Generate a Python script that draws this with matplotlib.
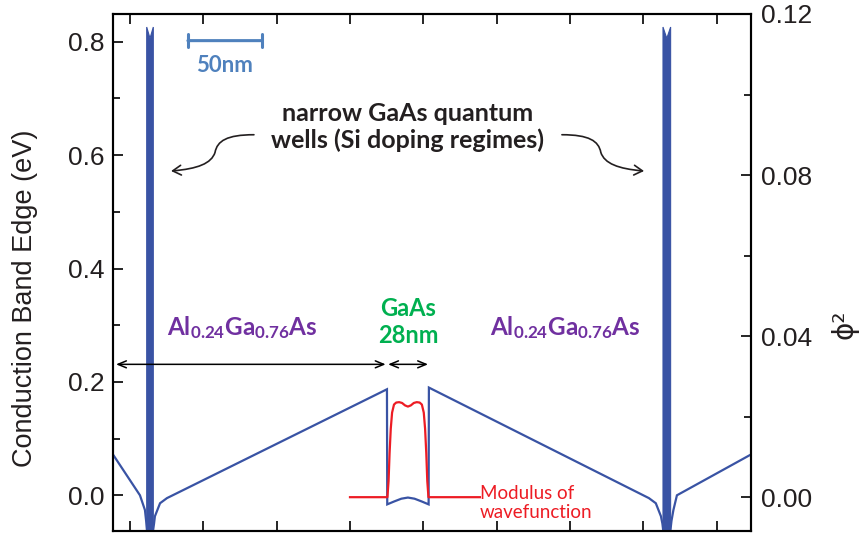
import numpy as np
import matplotlib
matplotlib.use("Agg")
import matplotlib.pyplot as plt
from matplotlib.path import Path
from matplotlib.patches import FancyArrowPatch
from matplotlib.ticker import MultipleLocator, FormatStrFormatter, NullFormatter

plt.rcParams['font.family'] = ['Liberation Sans', 'DejaVu Sans']
plt.rcParams['mathtext.fontset'] = 'custom'
plt.rcParams['mathtext.bf'] = 'Lato:bold'
plt.rcParams['mathtext.rm'] = 'Lato'

# conduction band profile: position (nm), energy (eV)
band_x = [-11.6, 6.8, 10.2, 11.0, 11.6,
          15.7, 16.4, 17.0, 20.5, 25.2,
          175.2, 175.4, 180.0, 185.0, 189.5, 194.0, 199.0, 203.6, 203.8,
          353.8, 358.5, 362.0, 363.0, 363.6,
          368.4, 369.2, 370.5, 372.9, 423.4]
band_y = [0.072, 0.0, -0.026, -0.045, -0.063,
          -0.063, -0.050, -0.037, -0.014, -0.005,
          0.187, -0.016, -0.011, -0.006, -0.004, -0.006, -0.011, -0.016, 0.190,
          -0.005, -0.014, -0.037, -0.050, -0.063,
          -0.063, -0.045, -0.026, 0.0, 0.072]

# narrow wells (left and right): edges in nm, top energy
spike_edges = [(11.4, 15.9), (363.4, 368.6)]
spike_top = 0.826
spike_notch = 0.806

# ground state |phi|^2 in the 28 nm GaAs well
wf_x = [150.0, 175.5, 176.3, 177.0, 177.8, 178.7, 180.0, 181.5, 183.5, 185.5,
        187.5, 189.5, 191.5, 193.5, 195.5, 197.5, 199.0, 200.3, 201.2, 202.0,
        202.7, 203.5, 238.6]
wf_y = [0.0, 0.0, 0.004, 0.011, 0.017, 0.021, 0.0230, 0.0235, 0.0236, 0.0234,
        0.0228, 0.0225, 0.0228, 0.0234, 0.0236, 0.0235, 0.0230, 0.021, 0.017,
        0.011, 0.004, 0.0, 0.0]

blue = '#3953a4'
red = '#ed1c24'
purple = '#7030a0'
green = '#00b050'
dark = '#231f20'

fig = plt.figure(figsize=(8.67, 5.38), dpi=100)
ax = fig.add_axes([0.1303, 0.013, 0.7359, 0.961])
ax2 = ax.twinx()

ax.plot(band_x, band_y, color=blue, lw=1.6, solid_joinstyle='miter', zorder=3)
for x0, x1 in spike_edges:
    xm = 0.5 * (x0 + x1)
    ax.fill([x0, x0, xm, x1, x1], [-0.07, spike_top, spike_notch, spike_top, -0.07],
            color=blue, lw=0.8, zorder=3)

ax2.plot(wf_x, wf_y, color=red, lw=1.6, zorder=3)

ax.set_xlim(-11.6, 423.4)
ax.set_ylim(-0.063, 0.849)
ax2.set_ylim(-0.0084, 0.12)

ax.xaxis.set_major_locator(MultipleLocator(50))
ax.xaxis.set_major_formatter(NullFormatter())
ax.yaxis.set_major_locator(MultipleLocator(0.2))
ax.yaxis.set_minor_locator(MultipleLocator(0.1))
ax.yaxis.set_major_formatter(FormatStrFormatter('%.1f'))
ax2.yaxis.set_major_locator(MultipleLocator(0.04))
ax2.yaxis.set_minor_locator(MultipleLocator(0.02))
ax2.yaxis.set_major_formatter(FormatStrFormatter('%.2f'))

ax.tick_params(axis='both', which='both', direction='in', width=1.2, colors='black',
               labelcolor=dark, labelsize=19)
ax.tick_params(axis='x', top=True, length=7)
ax.tick_params(axis='y', which='major', length=7, pad=6)
ax.tick_params(axis='y', which='minor', length=5)
ax2.tick_params(axis='y', which='both', direction='in', width=1.2,
                labelcolor=dark, labelsize=19, pad=7)
ax2.tick_params(axis='y', which='major', length=7)
ax2.tick_params(axis='y', which='minor', length=5)
for a in (ax, ax2):
    for s in a.spines.values():
        s.set_linewidth(1.5)

ax.set_ylabel('Conduction Band Edge (eV)', fontsize=19.5, color=dark)
ax.yaxis.set_label_coords(-0.117, 0.45)
ax2.set_ylabel('ϕ²', fontsize=20, color=dark, family=['DejaVu Sans'])
ax2.yaxis.set_label_coords(1.125, 0.40)

# 50 nm scale bar
ax.annotate('', xy=(39.5, 0.802), xytext=(90.0, 0.802),
            arrowprops=dict(arrowstyle='|-|, widthA=0.45, widthB=0.45',
                            color='#4f81bd', lw=2.2, shrinkA=0, shrinkB=0))
ax.text(64.7, 0.758, '50nm', color='#4f81bd', fontsize=16, fontweight='bold',
        family='Lato', ha='center', va='center')

ax.text(189.5, 0.650, 'narrow GaAs quantum\nwells (Si doping regimes)', color=dark,
        fontsize=18, fontweight='bold', family='Lato', ha='center', va='center',
        linespacing=1.2)

# curly arrows pointing at the two narrow wells
def curly(p0, c1, c2, p1, c3, c4, p2):
    path = Path([p0, c1, c2, p1, c3, c4, p2],
                [Path.MOVETO, Path.CURVE4, Path.CURVE4, Path.CURVE4,
                 Path.CURVE4, Path.CURVE4, Path.CURVE4])
    ax.add_patch(FancyArrowPatch(path=path, arrowstyle='->, head_length=6, head_width=3.5',
                                 color=dark, lw=1.2, zorder=4))

curly((84.5, 0.636), (66.0, 0.636), (59.5, 0.625), (58.0, 0.605),
      (55.5, 0.585), (46.0, 0.576), (28.0, 0.572))
curly((294.5, 0.636), (313.0, 0.636), (319.5, 0.625), (321.0, 0.605),
      (323.5, 0.585), (333.0, 0.576), (350.5, 0.572))

alga = r'$\mathbf{Al_{0.24}Ga_{0.76}As}$'
ax.text(76.5, 0.296, alga, color=purple, fontsize=17.5, ha='center', va='center')
ax.text(297.0, 0.296, alga, color=purple, fontsize=17.5, ha='center', va='center')
ax.text(189.5, 0.306, 'GaAs\n28nm', color=green, fontsize=17, fontweight='bold',
        family='Lato', ha='center', va='center', linespacing=1.2)

# layer extent arrows
arrow_y = 0.231
ax.annotate('', xy=(-9.5, arrow_y), xytext=(174.3, arrow_y),
            arrowprops=dict(arrowstyle='<->, head_length=0.6, head_width=0.25',
                            color='black', lw=1.1, shrinkA=0, shrinkB=0))
ax.annotate('', xy=(176.0, arrow_y), xytext=(203.2, arrow_y),
            arrowprops=dict(arrowstyle='<->, head_length=0.6, head_width=0.25',
                            color='black', lw=1.1, shrinkA=0, shrinkB=0))

ax.text(238.6, -0.013, 'Modulus of\nwavefunction', color=red, fontsize=13.5,
        family='Lato', ha='left', va='center', linespacing=1.15)

fig.savefig('out.png', dpi=100)
